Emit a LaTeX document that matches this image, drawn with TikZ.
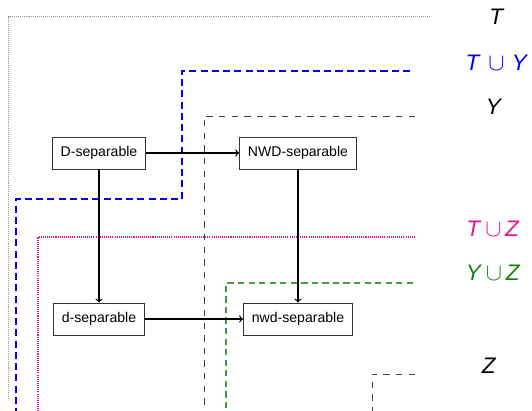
\documentclass[tikz,border=0pt]{standalone}
\usepackage{fontspec}
\setmainfont{Liberation Sans}
\definecolor{setpink}{RGB}{232,20,140}
\definecolor{setgreen}{RGB}{20,130,20}
\tikzset{
  notion/.style={rectangle, draw=black!80, line width=0.6pt, fill=white, minimum height=0.8cm, inner xsep=6pt, font=\fontsize{10}{12}\selectfont},
  implies/.style={->, line width=0.9pt},
  setT/.style={gray!80, line width=0.7pt, dash pattern=on 0.7pt off 0.7pt},
  setTY/.style={blue, dash pattern=on 5pt off 3pt, line width=0.75pt},
  setY/.style={black!75, dash pattern=on 4.5pt off 4.5pt, line width=0.7pt},
  setTZ/.style={setpink, line width=0.75pt, dash pattern=on 0.75pt off 0.75pt},
  setYZ/.style={setgreen!80, dash pattern=on 4.5pt off 3pt, line width=0.75pt},
  setZ/.style={black!75, dash pattern=on 4.5pt off 4.5pt, line width=0.7pt},
  setlabel/.style={font=\fontsize{16}{19}\selectfont}
}

\begin{document}
\begin{tikzpicture}[x=0.25cm, y=-0.25cm]
  \useasboundingbox (0,0) rectangle (53.2,41.1);

  % region boundaries
  \draw[setT]  (43,1.65) -- (0.85,1.65) -- (0.85,40);
  \draw[setTY] (41,7.1) -- (18.2,7.1) -- (18.2,19.9) -- (1.6,19.9) -- (1.6,41.1);
  \draw[setY]  (41.5,11.6) -- (20.4,11.6) -- (20.4,41.1);
  \draw[setTZ] (41.5,23.7) -- (3.8,23.7) -- (3.8,41.1);
  \draw[setYZ] (41.3,28.3) -- (22.6,28.3) -- (22.6,41.1);
  \draw[setZ]  (41.5,37.4) -- (37.2,37.4) -- (37.2,41.1);

  % region names
  \node[setlabel] (lT)  at (49.7,1.7)  {\textit{T}};
  \node[setlabel, blue] (lTY) at (49.7,6.3) {\textit{T}\,\,$\cup$\,\,\textit{Y}};
  \node[setlabel] (lY)  at (49.4,10.7) {\textit{Y}};
  \node[setlabel, setpink] (lTZ) at (49.3,22.9) {\textit{T}\,$\cup$\,\textit{Z}};
  \node[setlabel, setgreen] (lYZ) at (49.3,27.3) {\textit{Y}\,$\cup$\,\textit{Z}};
  \node[setlabel] (lZ)  at (48.9,36.6) {\textit{Z}};

  % notions of separability
  \node[notion] (Dsep)   at (9.9,15.3)  {D-separable};
  \node[notion] (NWDsep) at (29.8,15.3) {NWD-separable};
  \node[notion] (dsep)   at (9.9,31.9)  {d-separable};
  \node[notion] (nwdsep) at (29.8,31.9) {nwd-separable};

  \draw[implies] (Dsep) -- (NWDsep);
  \draw[implies] (Dsep) -- (dsep);
  \draw[implies] (NWDsep) -- (nwdsep);
  \draw[implies] (dsep) -- (nwdsep);
\end{tikzpicture}
\end{document}
